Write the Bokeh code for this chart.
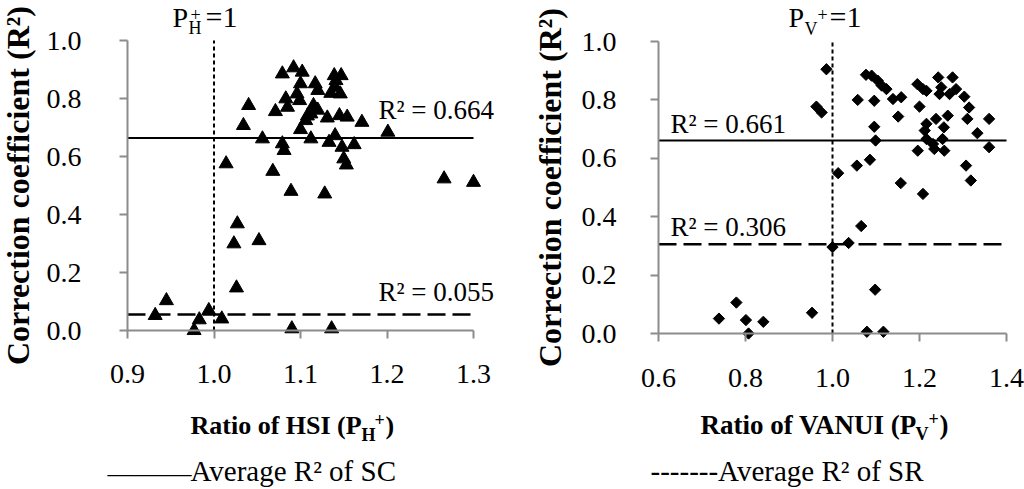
import math
from bokeh.plotting import figure
from bokeh.layouts import row
from bokeh.models import Label, FixedTicker, NumeralTickFormatter, Range1d
from bokeh.embed import file_html
from bokeh.resources import INLINE

# ---------------- data ----------------
hsi_ratio = [0.932, 0.945, 0.977, 0.983, 0.994, 1.009, 1.014, 1.026, 1.027, 1.023,
             1.034, 1.040, 1.052, 1.056, 1.068, 1.071, 1.079, 1.079, 1.081, 1.083,
             1.085, 1.089, 1.090, 1.092, 1.102, 1.100, 1.096, 1.099, 1.100, 1.112,
             1.117, 1.120, 1.115, 1.112, 1.106, 1.128, 1.131, 1.133, 1.135, 1.136,
             1.139, 1.140, 1.146, 1.140, 1.145, 1.147, 1.148, 1.150, 1.153, 1.154,
             1.162, 1.171, 1.201, 1.266, 1.300, 1.108, 1.141, 1.120]
hsi_r2 = [0.052, 0.103, 0.000, 0.037, 0.069, 0.040, 0.575, 0.147, 0.368, 0.299,
          0.707, 0.776, 0.310, 0.661, 0.549, 0.755, 0.885, 0.644, 0.621, 0.799,
          0.770, 0.480, 0.006, 0.906, 0.891, 0.851, 0.816, 0.793, 0.693, 0.661,
          0.851, 0.828, 0.776, 0.747, 0.724, 0.471, 0.733, 0.649, 0.818, 0.006,
          0.879, 0.839, 0.816, 0.672, 0.741, 0.879, 0.632, 0.592, 0.571, 0.736,
          0.641, 0.718, 0.684, 0.523, 0.511, 0.740, 0.862, 0.760]

vanui_ratio = [0.739, 0.779, 0.801, 0.807, 0.841, 0.953, 0.963, 0.975, 0.986, 1.000,
               1.013, 1.037, 1.066, 1.056, 1.058, 1.077, 1.086, 1.079, 1.090, 1.096,
               1.096, 1.099, 1.098, 1.104, 1.117, 1.113, 1.124, 1.139, 1.158, 1.151,
               1.157, 1.195, 1.208, 1.216, 1.200, 1.216, 1.212, 1.196, 1.208, 1.216,
               1.231, 1.238, 1.243, 1.250, 1.246, 1.256, 1.253, 1.257, 1.265, 1.269,
               1.276, 1.284, 1.303, 1.307, 1.314, 1.310, 1.318, 1.333, 1.360, 1.360,
               1.234]
vanui_r2 = [0.051, 0.106, 0.046, 0.000, 0.040, 0.071, 0.777, 0.757, 0.905, 0.296,
            0.549, 0.310, 0.368, 0.575, 0.800, 0.886, 0.595, 0.006, 0.883, 0.797,
            0.708, 0.661, 0.150, 0.866, 0.006, 0.849, 0.837, 0.803, 0.809, 0.743,
            0.515, 0.854, 0.837, 0.831, 0.777, 0.718, 0.695, 0.626, 0.478, 0.666,
            0.649, 0.735, 0.877, 0.843, 0.820, 0.706, 0.666, 0.626, 0.746, 0.820,
            0.877, 0.837, 0.811, 0.575, 0.774, 0.735, 0.524, 0.686, 0.735, 0.638,
            0.632]

avg_sc_hsi = 0.664
avg_sr_hsi = 0.055
avg_sc_vanui = 0.661
avg_sr_vanui = 0.306
ratio_one = 1.0

hsi_ticks = [0.9, 1.0, 1.1, 1.2, 1.3]
vanui_ticks = [0.6, 0.8, 1.0, 1.2, 1.4]
r2_ticks = [0.0, 0.2, 0.4, 0.6, 0.8, 1.0]

FONT = "Liberation Serif"
CANVAS_TOP, CANVAS_BOTTOM = 0, 489
BASELINE_SHIFT = 0.33  # em; Label baseline lands this much lower than requested


def make_panel(xticks, canvas_left, canvas_right, px_left, px_right, px_top, px_bottom):
    """Figure whose frame is the whole canvas; the data box sits at the given pixels."""
    x0, x1 = xticks[0], xticks[-1]
    y0, y1 = r2_ticks[0], r2_ticks[-1]
    sx = (px_right - px_left) / (x1 - x0)
    sy = (px_bottom - px_top) / (y1 - y0)
    xr = Range1d(x0 - (px_left - canvas_left) / sx, x1 + (canvas_right - px_right) / sx)
    yr = Range1d(y0 - (CANVAS_BOTTOM - px_bottom) / sy, y1 + (px_top - CANVAS_TOP) / sy)
    p = figure(x_range=xr, y_range=yr, frame_width=canvas_right - canvas_left,
               frame_height=CANVAS_BOTTOM - CANVAS_TOP,
               min_border=0, output_backend="svg", toolbar_location=None)
    p.outline_line_color = None
    p.xgrid.grid_line_color = None
    p.ygrid.grid_line_color = None
    p.background_fill_color = "white"
    p.border_fill_color = "white"
    xa, ya = p.xaxis[0], p.yaxis[0]
    xa.fixed_location = y0
    xa.bounds = (x0, x1)
    xa.ticker = FixedTicker(ticks=xticks)
    ya.fixed_location = x0
    ya.bounds = (y0, y1)
    ya.ticker = FixedTicker(ticks=r2_ticks)
    for ax in (xa, ya):
        ax.axis_line_color = "#8c8c8c"
        ax.axis_line_width = 2
        ax.major_tick_line_color = "#8c8c8c"
        ax.major_tick_line_width = 2
        ax.major_tick_in = 0
        ax.major_tick_out = 8
        ax.minor_tick_line_color = None
        ax.major_label_text_font = FONT
        ax.major_label_text_font_size = "28px"
        ax.major_label_text_color = "black"
        ax.formatter = NumeralTickFormatter(format="0.0")
    return p


def txt(p, cl, x, y, text, size, bold=False, align="left", baseline="alphabetic", angle=0.0):
    if baseline == "alphabetic":
        y = y - BASELINE_SHIFT * size
    p.add_layout(Label(x=x - cl, y=CANVAS_BOTTOM - y, x_units="screen", y_units="screen",
                       text=text, text_font=FONT, text_font_size=f"{size}px",
                       text_font_style="bold" if bold else "normal",
                       text_align=align, text_baseline=baseline, angle=angle,
                       text_color="black"))


def draw_lines(p, xticks, sc, sr):
    x_span = [xticks[0], xticks[-1]]
    p.line(x_span, [sc, sc], line_color="black", line_width=2)
    p.line(x_span, [sr, sr], line_color="black", line_width=2.5, line_dash="18 7")
    p.line([ratio_one, ratio_one], [r2_ticks[0], r2_ticks[-1]], line_color="black",
           line_width=2, line_dash="4 3")


# ---------------- left panel (HSI) ----------------
CL1 = 0
p1 = make_panel(hsi_ticks, CL1, 520, 127, 473, 40, 330)
p1.xaxis[0].major_label_standoff = 26
p1.yaxis[0].major_label_standoff = 38
draw_lines(p1, hsi_ticks, avg_sc_hsi, avg_sr_hsi)
p1.scatter(hsi_ratio, hsi_r2, marker="triangle", size=14, color="black")

txt(p1, CL1, 378, 118, f"R² = {avg_sc_hsi:.3f}", 27)
txt(p1, CL1, 378, 300, f"R² = {avg_sr_hsi:.3f}", 27)
txt(p1, CL1, 172, 26, "P", 28)
txt(p1, CL1, 188, 33, "H", 18)
txt(p1, CL1, 190, 20, "+", 18)
txt(p1, CL1, 205, 26, "=1", 30)
txt(p1, CL1, 17, 185, "Correction coefficient (R²)", 32, bold=True,
    align="center", baseline="middle", angle=math.pi / 2)
txt(p1, CL1, 190, 434, "Ratio of HSI (P", 26, bold=True)
txt(p1, CL1, 361, 440, "H", 18, bold=True)
txt(p1, CL1, 374, 425, "+", 18, bold=True)
txt(p1, CL1, 385, 434, ")", 26, bold=True)
txt(p1, CL1, 107, 481, "———", 28)
txt(p1, CL1, 190, 480, "Average R² of SC", 29)

# ---------------- right panel (VANUI) ----------------
CL2 = 520
p2 = make_panel(vanui_ticks, CL2, 1024, 658, 1006, 41, 333)
p2.xaxis[0].major_label_standoff = 27
p2.yaxis[0].major_label_standoff = 34
draw_lines(p2, vanui_ticks, avg_sc_vanui, avg_sr_vanui)
p2.scatter(vanui_ratio, vanui_r2, marker="square", size=8, angle=math.pi / 4, color="black")

txt(p2, CL2, 670, 132, f"R² = {avg_sc_vanui:.3f}", 27)
txt(p2, CL2, 670, 235, f"R² = {avg_sr_vanui:.3f}", 27)
txt(p2, CL2, 788, 26, "P", 28)
txt(p2, CL2, 804, 34, "V", 18)
txt(p2, CL2, 817, 20, "+", 18)
txt(p2, CL2, 829, 26, "=1", 30)
txt(p2, CL2, 549, 187, "Correction coefficient (R²)", 32, bold=True,
    align="center", baseline="middle", angle=math.pi / 2)
txt(p2, CL2, 700, 433, "Ratio of VANUI (P", 27, bold=True)
txt(p2, CL2, 915, 439, "V", 18, bold=True)
txt(p2, CL2, 928, 424, "+", 18, bold=True)
txt(p2, CL2, 939, 433, ")", 27, bold=True)
txt(p2, CL2, 650, 480, "-------Average R² of SR", 29)

layout = row(p1, p2)
open("out.html", "w").write(file_html(layout, INLINE))
